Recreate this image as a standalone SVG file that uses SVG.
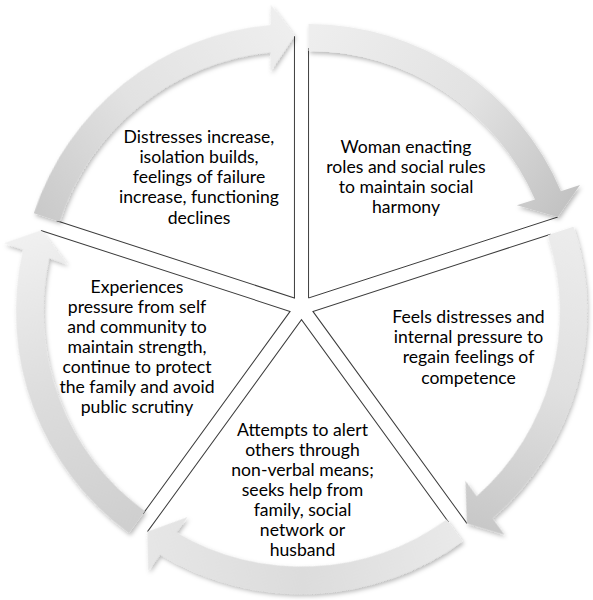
<svg xmlns="http://www.w3.org/2000/svg" xmlns:xlink="http://www.w3.org/1999/xlink" width="593" height="600" viewBox="0 0 593 600">
  <defs>
    <style>
      .lbl { font-family: Lato, "Open Sans", "Liberation Sans", sans-serif; font-size: 17.6px; fill: #000; text-anchor: middle; }
      .edge { fill: none; stroke: #3c3c3c; stroke-width: 1; }
    </style>
    <filter id="sh" x="-5%" y="-5%" width="110%" height="110%">
      <feDropShadow dx="1.5" dy="2.5" stdDeviation="2" flood-color="#000" flood-opacity="0.28"/>
    </filter>
    <path id="arrow" d="M0,-274 A274,274 0 0 1 252.31,-106.85 L271.42,-112.98 L249.19,-80.96 L208.28,-92.74 L226.48,-98.57 A247,247 0 0 0 0,-247 Z"/>
    <path id="wedge" d="M249.19,-80.96 L0,0 L0,-250"/>
    <linearGradient id="g1" gradientUnits="userSpaceOnUse" x1="0" y1="-262" x2="250" y2="-85">
      <stop offset="0" stop-color="#eeeeee"/><stop offset="0.55" stop-color="#e2e2e2"/><stop offset="1" stop-color="#c3c3c3"/>
    </linearGradient>
    <linearGradient id="g2" gradientUnits="userSpaceOnUse" x1="0" y1="-262" x2="250" y2="-85">
      <stop offset="0" stop-color="#ececec"/><stop offset="0.5" stop-color="#e0e0e0"/><stop offset="1" stop-color="#c8c8c8"/>
    </linearGradient>
    <linearGradient id="g3" gradientUnits="userSpaceOnUse" x1="0" y1="-262" x2="250" y2="-85">
      <stop offset="0" stop-color="#e9e9e9"/><stop offset="0.5" stop-color="#dcdcdc"/><stop offset="1" stop-color="#e6e6e6"/>
    </linearGradient>
    <linearGradient id="g4" gradientUnits="userSpaceOnUse" x1="0" y1="-262" x2="250" y2="-85">
      <stop offset="0" stop-color="#cfcfcf"/><stop offset="0.5" stop-color="#dddddd"/><stop offset="1" stop-color="#f0f0f0"/>
    </linearGradient>
    <linearGradient id="g5" gradientUnits="userSpaceOnUse" x1="0" y1="-262" x2="250" y2="-85">
      <stop offset="0" stop-color="#cacaca"/><stop offset="0.45" stop-color="#e2e2e2"/><stop offset="1" stop-color="#eeeeee"/>
    </linearGradient>
  </defs>
  <rect width="593" height="600" fill="#ffffff"/>

  <g id="node1">
    <use href="#wedge" class="edge" transform="translate(308.553,297.992)"/>
    <text class="lbl" x="406" y="153">Woman enacting</text>
    <text class="lbl" x="406" y="173">roles and social rules</text>
    <text class="lbl" x="406" y="193">to maintain social</text>
    <text class="lbl" x="406" y="213">harmony</text>
  </g>
  <g id="node2">
    <use href="#wedge" class="edge" transform="translate(312.913,311.408) rotate(72)"/>
    <text class="lbl" x="468.5" y="323">Feels distresses and</text>
    <text class="lbl" x="468.5" y="343">internal pressure to</text>
    <text class="lbl" x="468.5" y="363">regain feelings of</text>
    <text class="lbl" x="468.5" y="383.5">competence</text>
  </g>
  <g id="node3">
    <use href="#wedge" class="edge" transform="translate(301.5,319.7) rotate(144)"/>
    <text class="lbl" x="302.5" y="436.3">Attempts to alert</text>
    <text class="lbl" x="302.5" y="456.3">others through</text>
    <text class="lbl" x="302.5" y="476.3">non-verbal means;</text>
    <text class="lbl" x="302.5" y="496.3">seeks help from</text>
    <text class="lbl" x="302.5" y="516.3">family, social</text>
    <text class="lbl" x="302.5" y="536.3">network or</text>
    <text class="lbl" x="302.5" y="556.3">husband</text>
  </g>
  <g id="node4">
    <use href="#wedge" class="edge" transform="translate(290.087,311.408) rotate(216)"/>
    <text class="lbl" x="137" y="293.3">Experiences</text>
    <text class="lbl" x="137" y="313.3">pressure from self</text>
    <text class="lbl" x="137" y="333.3">and community to</text>
    <text class="lbl" x="137" y="353.3">maintain strength,</text>
    <text class="lbl" x="137" y="373.3">continue to protect</text>
    <text class="lbl" x="137" y="393.3">the family and avoid</text>
    <text class="lbl" x="137" y="413.3">public scrutiny</text>
  </g>
  <g id="node5">
    <use href="#wedge" class="edge" transform="translate(294.447,297.992) rotate(288)"/>
    <text class="lbl" x="199" y="142.7">Distresses increase,</text>
    <text class="lbl" x="199" y="162.9">isolation builds,</text>
    <text class="lbl" x="199" y="183.1">feelings of failure</text>
    <text class="lbl" x="199" y="203.3">increase, functioning</text>
    <text class="lbl" x="199" y="223.5">declines</text>
  </g>

  <g id="connectors" filter="url(#sh)">
    <use href="#arrow" fill="url(#g1)" transform="translate(308.553,297.992)"/>
    <use href="#arrow" fill="url(#g2)" transform="translate(312.913,311.408) rotate(72)"/>
    <use href="#arrow" fill="url(#g3)" transform="translate(301.5,319.7) rotate(144)"/>
    <use href="#arrow" fill="url(#g4)" transform="translate(290.087,311.408) rotate(216)"/>
    <use href="#arrow" fill="url(#g5)" transform="translate(294.447,297.992) rotate(288)"/>
  </g>
</svg>
